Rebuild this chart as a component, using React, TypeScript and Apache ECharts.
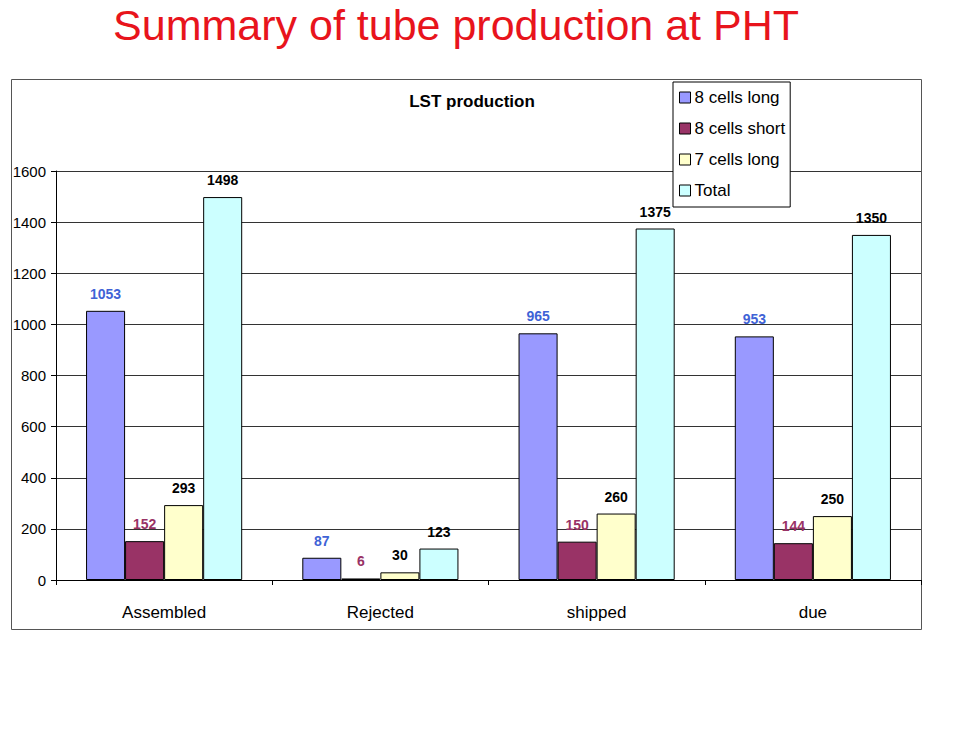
import React, { useEffect, useRef } from "react";
import * as echarts from "echarts";

const categories = ["Assembled", "Rejected", "shipped", "due"];
const seriesNames = ["8 cells long", "8 cells short", "7 cells long", "Total"];
const cells8Long = [1053, 87, 965, 953];
const cells8Short = [152, 6, 150, 144];
const cells7Long = [293, 30, 260, 250];
const totals = [1498, 123, 1375, 1350];

const barColors = ["#9999FF", "#993366", "#FFFFCC", "#CCFFFF"];
const labelColors = ["#3F63D6", "#993366", "#000000", "#000000"];
const narrow = "'Liberation Sans Narrow', 'Arial Narrow', 'Liberation Sans', Arial, sans-serif";
const sans = "'Liberation Sans', Arial, sans-serif";

export default function App() {
  const ref = useRef<HTMLDivElement>(null);
  useEffect(() => {
    document.body.style.margin = "0";
    const chart = echarts.init(ref.current!, null, { renderer: "svg" });
    const dataSets = [cells8Long, cells8Short, cells7Long, totals];
    chart.setOption({
      animation: false,
      backgroundColor: "#ffffff",
      title: [
        {
          text: "Summary of tube production at PHT",
          left: 451,
          textAlign: "center",
          top: -2,
          textStyle: { color: "#E8141C", fontSize: 43, fontWeight: "normal", fontFamily: sans },
        },
        {
          text: "LST production",
          left: 467,
          textAlign: "center",
          top: 88,
          textStyle: { color: "#000", fontSize: 17, fontWeight: "bold", fontFamily: narrow },
        },
      ],
      graphic: [
        {
          type: "rect",
          shape: { x: 11.5, y: 79.5, width: 910, height: 550 },
          style: { fill: "none", stroke: "#555", lineWidth: 1 },
          z: -1,
        },
      ],
      legend: {
        orient: "vertical",
        left: 673,
        top: 82,
        padding: [7, 5, 8, 6],
        itemWidth: 11,
        itemHeight: 11,
        itemGap: 14,
        borderColor: "#000",
        borderWidth: 1,
        backgroundColor: "#fff",
        icon: "rect",
        textStyle: { fontSize: 17, fontFamily: narrow, color: "#000", padding: [0, 0, 0, -1] },
        itemStyle: { borderColor: "#000", borderWidth: 1 },
        data: seriesNames,
        z: 10,
      },
      grid: { left: 56, right: 39, top: 171, bottom: 153, containLabel: false },
      xAxis: {
        type: "category",
        data: categories,
        axisLine: { lineStyle: { color: "#000", width: 1 } },
        axisTick: { show: true, alignWithLabel: false, length: 5, lineStyle: { color: "#000" } },
        axisLabel: { color: "#000", fontSize: 17, fontFamily: sans, margin: 24 },
      },
      yAxis: {
        type: "value",
        min: 0,
        max: 1600,
        interval: 200,
        axisLine: { show: true, lineStyle: { color: "#000", width: 1 } },
        axisTick: { show: true, length: 5, lineStyle: { color: "#000" } },
        axisLabel: {
          color: "#000",
          fontSize: 15,
          fontFamily: sans,
          margin: 10,
          formatter: (v: number) => String(v),
        },
        splitLine: { show: true, lineStyle: { color: "#333", width: 1 } },
      },
      series: seriesNames.map((name, i) => ({
        name,
        type: "bar",
        data: dataSets[i],
        barGap: "0%",
        barCategoryGap: "27.8%",
        itemStyle: { color: barColors[i], borderColor: "#000", borderWidth: 1 },
        label: {
          show: true,
          position: "top",
          distance: 10,
          color: labelColors[i],
          fontSize: 14,
          fontWeight: "bold",
          fontFamily: narrow,
        },
      })),
    });
    return () => chart.dispose();
  }, []);
  return <div ref={ref} style={{ width: 960, height: 733 }} />;
}
